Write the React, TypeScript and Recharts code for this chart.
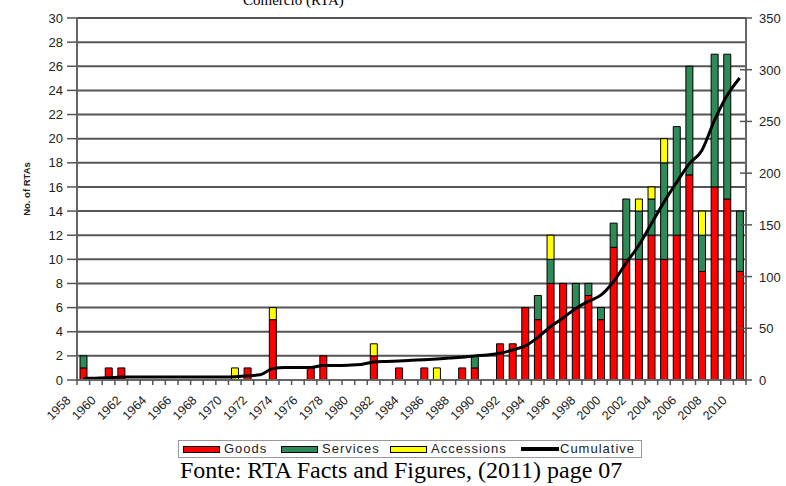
import { ComposedChart, Bar, Line, XAxis, YAxis, CartesianGrid } from 'recharts';

const years = [
  1958, 1959, 1960, 1961, 1962, 1963, 1964, 1965, 1966, 1967,
  1968, 1969, 1970, 1971, 1972, 1973, 1974, 1975, 1976, 1977,
  1978, 1979, 1980, 1981, 1982, 1983, 1984, 1985, 1986, 1987,
  1988, 1989, 1990, 1991, 1992, 1993, 1994, 1995, 1996, 1997,
  1998, 1999, 2000, 2001, 2002, 2003, 2004, 2005, 2006, 2007,
  2008, 2009, 2010,
];

const goods = [
  1, 0, 1, 1, 0, 0, 0, 0, 0, 0,
  0, 0, 0, 1, 0, 5, 0, 0, 1, 2,
  0, 0, 0, 2, 0, 1, 0, 1, 0, 0,
  1, 1, 0, 3, 3, 6, 5, 8, 8, 6,
  7, 5, 11, 10, 10, 12, 10, 12, 17, 9,
  16, 15, 9,
];

const services = [
  1, 0, 0, 0, 0, 0, 0, 0, 0, 0,
  0, 0, 0, 0, 0, 0, 0, 0, 0, 0,
  0, 0, 0, 0, 0, 0, 0, 0, 0, 0,
  0, 1, 0, 0, 0, 0, 2, 2, 0, 2,
  1, 1, 2, 5, 4, 3, 8, 9, 9, 3,
  11, 12, 5,
];

const accessions = [
  0, 0, 0, 0, 0, 0, 0, 0, 0, 0,
  0, 0, 1, 0, 0, 1, 0, 0, 0, 0,
  0, 0, 0, 1, 0, 0, 0, 0, 1, 0,
  0, 0, 0, 0, 0, 0, 0, 2, 0, 0,
  0, 0, 0, 0, 1, 1, 2, 0, 0, 2,
  0, 0, 0,
];

const cumulative = [
  1.5, 1.8, 2.2, 2.8, 3, 3, 3, 3, 3, 3,
  3, 3, 3.2, 4, 5, 11, 12, 12, 12, 14,
  14, 14.3, 15, 17.4, 18, 18.4, 19, 19.6, 20.3, 21.2,
  22, 23.2, 24.2, 25.8, 29, 33, 41, 51.5, 60, 69,
  76, 82, 95, 113, 130, 151, 172, 191, 209, 222,
  251, 275, 292,
];

const leftTicks = [0, 2, 4, 6, 8, 10, 12, 14, 16, 18, 20, 22, 24, 26, 28, 30];
const rightTicks = [0, 50, 100, 150, 200, 250, 300, 350];

const data = years.map((y, i) => ({
  year: String(y),
  goods: goods[i],
  services: services[i],
  accessions: accessions[i],
  cumulative: cumulative[i],
}));

const PLOT_LEFT = 77;
const PLOT_RIGHT = 746;
const BAND = (PLOT_RIGHT - PLOT_LEFT) / years.length;
const SANS = '"Liberation Sans", Arial, sans-serif';
const SERIF = '"Liberation Serif", "Times New Roman", serif';

function XTick(props: any) {
  const { x, y, index } = props;
  const showLabel = index % 2 === 0;
  const last = index === years.length - 1;
  const ax = x - 12;
  const ay = y + 21;
  return (
    <g>
      <line x1={x - BAND / 2} x2={x - BAND / 2} y1={y} y2={y + 5} stroke="#555" strokeWidth={1.5} />
      {last && <line x1={x + BAND / 2} x2={x + BAND / 2} y1={y} y2={y + 5} stroke="#555" strokeWidth={1.5} />}
      {showLabel && (
        <text x={ax} y={ay} textAnchor="end" transform={`rotate(-45 ${ax} ${ay})`}
          fontSize={12.5} fontFamily={SANS} fill="#222">
          {years[index]}
        </text>
      )}
    </g>
  );
}

function RightTick(props: any) {
  const { x, y, payload } = props;
  return (
    <g>
      <line x1={x - 6} x2={x + 6} y1={y} y2={y} stroke="#555" strokeWidth={1.5} />
      <text x={x + 13} y={y + 5} fontSize={13} fontFamily={SANS} fill="#222">{payload.value}</text>
    </g>
  );
}

function LegendSwatch({ left, color }: { left: number; color: string }) {
  return (
    <div style={{ position: 'absolute', left, top: 5, width: 35, height: 5, background: color, border: '1px solid #000' }} />
  );
}

function LegendText({ left, text }: { left: number; text: string }) {
  return (
    <div style={{ position: 'absolute', left, top: 1, fontSize: 13, letterSpacing: 1, fontFamily: SANS, color: '#222', lineHeight: '14px' }}>{text}</div>
  );
}

export default function App() {
  return (
    <div style={{ position: 'fixed', left: 0, top: 0, width: 786, height: 486, background: '#fff', overflow: 'hidden' }}>
      <div style={{ position: 'absolute', left: 243, top: -8, fontSize: 15, fontFamily: SERIF, lineHeight: '16px', color: '#000' }}>
        Comércio (RTA)
      </div>
      <ComposedChart width={786} height={430} data={data} margin={{ top: 18, right: 0, bottom: 0, left: 0 }}>
        <CartesianGrid yAxisId="left" vertical={false} stroke="#555" strokeWidth={2} />
        <XAxis dataKey="year" interval={0} tick={XTick} tickLine={false} tickSize={0} tickMargin={0}
          height={50} axisLine={{ stroke: '#666', strokeWidth: 2 }} />
        <YAxis yAxisId="left" domain={[0, 30]} ticks={leftTicks} width={PLOT_LEFT} tickSize={10} tickMargin={4}
          axisLine={{ stroke: '#666', strokeWidth: 2 }} tickLine={{ stroke: '#555', strokeWidth: 1.5 }}
          tick={{ fontSize: 13, fontFamily: SANS, fill: '#222' }} interval={0} />
        <YAxis yAxisId="right" orientation="right" domain={[0, 350]} ticks={rightTicks} width={40}
          tickSize={0} tickMargin={0} tick={RightTick} tickLine={false}
          axisLine={{ stroke: '#666', strokeWidth: 2 }} interval={0} />
        <Bar yAxisId="left" dataKey="goods" stackId="a" fill="#ff0000" stroke="#000" strokeWidth={1} barSize={7} isAnimationActive={false} />
        <Bar yAxisId="left" dataKey="services" stackId="a" fill="#2e8b57" stroke="#000" strokeWidth={1} barSize={7} isAnimationActive={false} />
        <Bar yAxisId="left" dataKey="accessions" stackId="a" fill="#ffff00" stroke="#000" strokeWidth={1} barSize={7} isAnimationActive={false} />
        <Line yAxisId="right" dataKey="cumulative" type="monotone" stroke="#000" strokeWidth={3} dot={false} isAnimationActive={false} />
      </ComposedChart>
      <div style={{ position: 'absolute', left: 26, top: 189, transform: 'translate(-50%, -50%) rotate(-90deg)', fontSize: 9.5, fontWeight: 'bold', fontFamily: SANS, whiteSpace: 'nowrap', color: '#222' }}>
        No. of RTAs
      </div>
      <div style={{ position: 'absolute', left: 178, top: 440, width: 464, height: 18, border: '1px solid #999', boxSizing: 'border-box' }}>
        <LegendSwatch left={4} color="#ff0000" />
        <LegendText left={45} text="Goods" />
        <LegendSwatch left={102} color="#2e8b57" />
        <LegendText left={143} text="Services" />
        <LegendSwatch left={211} color="#ffff00" />
        <LegendText left={252} text="Accessions" />
        <div style={{ position: 'absolute', left: 342, top: 6, width: 38, height: 4, background: '#000' }} />
        <LegendText left={381} text="Cumulative" />
      </div>
      <div style={{ position: 'absolute', left: 180, top: 457, fontSize: 24, fontFamily: SERIF, lineHeight: '26px', color: '#000', whiteSpace: 'nowrap' }}>
        Fonte: RTA Facts and Figures, (2011) page 07
      </div>
    </div>
  );
}
